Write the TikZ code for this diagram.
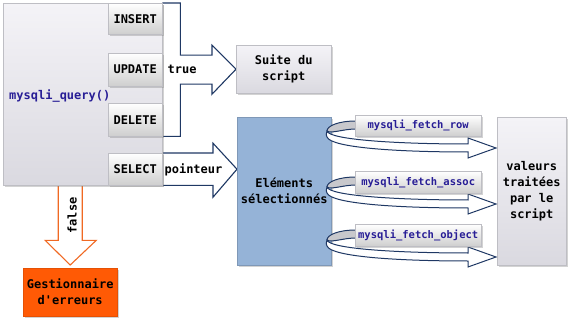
\documentclass[tikz,border=0pt]{standalone}
\usepackage{fontspec}
\newfontfamily\codefont{DejaVu Sans Mono}
\usetikzlibrary{shadows,calc}

\definecolor{arrowblue}{RGB}{31,56,100}
\definecolor{codeblue}{RGB}{40,30,150}
\definecolor{selblue}{RGB}{149,179,215}
\definecolor{errorange}{RGB}{255,90,5}
\definecolor{falseorange}{RGB}{240,105,35}
\definecolor{panelline}{RGB}{190,190,196}
\definecolor{ribbongray}{RGB}{200,200,204}
\definecolor{paneltop}{RGB}{244,243,247}
\definecolor{panelbottom}{RGB}{218,217,224}

\tikzset{
  shadowed/.style={drop shadow={shadow xshift=1.5pt,shadow yshift=-1.5pt,opacity=0.35}},
  panel/.style={shadowed, draw=panelline, top color=paneltop, bottom color=panelbottom,
    anchor=north west, inner sep=0pt, align=center,
    font=\codefont\bfseries\fontsize{12}{16}\selectfont},
  button/.style={panel, top color=white, bottom color=black!19},
  fetchlabel/.style={button, text=codeblue, font=\codefont\bfseries\fontsize{10.5}{13}\selectfont},
  bigarrow/.style={draw=arrowblue, fill=white, line width=1.1pt, line join=miter},
  falsearrow/.style={draw=falseorange, fill=white, line width=1.1pt, line join=miter},
  tag/.style={font=\codefont\bfseries\fontsize{12}{16}\selectfont, inner sep=0pt},
}

% curved fetch arrow wrapping around the right edge of the selected set,
% placed relative to the north west corner of its label
\newcommand\fetchribbon[1]{%
  \fill[ribbongray, draw=arrowblue, line width=1pt]
    ($(#1.north west)+(1,6)$) .. controls ($(#1.north west)+(-17,6)$) and ($(#1.north west)+(-28,11)$)
    .. ($(#1.north west)+(-28,16)$) .. controls ($(#1.north west)+(-24,19)$) and ($(#1.north west)+(-12,14)$)
    .. ($(#1.north west)+(1,14)$) -- cycle;
  \draw[bigarrow, line width=1pt]
    ($(#1.north west)+(-28,16)$) .. controls ($(#1.north west)+(-26,25)$) and ($(#1.north west)+(45,29)$)
    .. ($(#1.north west)+(113,29)$) -- ($(#1.north west)+(113,23)$) -- ($(#1.north west)+(141,33)$)
    -- ($(#1.north west)+(113,43)$) -- ($(#1.north west)+(113,37)$)
    .. controls ($(#1.north west)+(45,37)$) and ($(#1.north west)+(-24,33)$) .. ($(#1.north west)+(-28,22)$)
    .. controls ($(#1.north west)+(-29,20)$) .. cycle;
}

\begin{document}
\begin{tikzpicture}[x=1pt,y=-1pt]
\useasboundingbox (0,0) rectangle (580,320);

% boxes placed first as empty frames so that arrows can refer to them
\path
  (3,3) node[minimum width=159, minimum height=182, anchor=north west, inner sep=0pt] (query) {}
  (108,3) node[minimum width=54, minimum height=31, anchor=north west, inner sep=0pt] (insert) {}
  (108,53) node[minimum width=54, minimum height=33, anchor=north west, inner sep=0pt] (update) {}
  (108,103) node[minimum width=54, minimum height=33, anchor=north west, inner sep=0pt] (delete) {}
  (108,153) node[minimum width=54, minimum height=32, anchor=north west, inner sep=0pt] (select) {}
  (236,45) node[minimum width=95, minimum height=48, anchor=north west, inner sep=0pt] (suite) {}
  (237,117) node[minimum width=94, minimum height=148, anchor=north west, inner sep=0pt] (elem) {}
  (497,117) node[minimum width=69, minimum height=148, anchor=north west, inner sep=0pt] (valeurs) {}
  (23,268) node[minimum width=94, minimum height=48, anchor=north west, inner sep=0pt] (err) {};

% false: down to the error handler
\coordinate (ftip) at ($(err.north)+(0,-3)$);
\coordinate (ftop) at (ftip |- query.south);
\draw[falsearrow] ($(ftop)+(-12,-2)$) -- ($(ftop)+(-12,55)$) -- ($(ftop)+(-25,55)$) -- (ftip)
  -- ($(ftop)+(26,55)$) -- ($(ftop)+(12,55)$) -- ($(ftop)+(12,-2)$);
\node[tag, rotate=90] at ($(ftop)+(2,30)$) {false};

% true: INSERT, UPDATE, DELETE lead on to the rest of the script
\draw[bigarrow] (insert.north east) -- ++(18,0) |- ($(suite.west)+(-24,-14)$) -- ++(0,-10)
  -- (suite.west) -- ++(-24,25) -- ++(0,-10) -| ($(delete.south east)+(18,0)$) -- (delete.south east);
\node[tag, anchor=west] at ($(update.east)+(5,0)$) {true};

% pointer: SELECT leads to the selected rows
\coordinate (ptip) at (select.east -| elem.west);
\coordinate (pbase) at ($(ptip)+(-24,0)$);
\draw[bigarrow] (select.north east) -- (select.north east -| pbase) -- ($(pbase)+(0,-26)$)
  -- (ptip) -- ($(pbase)+(0,28)$) -- (select.south east -| pbase) -- (select.south east);
\node[tag, anchor=west] at ($(select.east)+(2,1)$) {pointeur};

% mysqli_query() block and its statements
\node[panel, minimum width=159, minimum height=182] at (3,3) {};
\node[tag, anchor=west, text=codeblue] at (9,96) {mysqli\_query()};
\node[button, minimum width=54, minimum height=31] at (108,3) {INSERT};
\node[button, minimum width=54, minimum height=33] at (108,53) {UPDATE};
\node[button, minimum width=54, minimum height=33] at (108,103) {DELETE};
\node[button, minimum width=54, minimum height=32] at (108,153) {SELECT};

% targets
\node[panel, minimum width=95, minimum height=48] at (236,45) {Suite du\\script};
\node[panel, draw=selblue!85!black, top color=selblue, bottom color=selblue,
  minimum width=94, minimum height=148] at (237,117) {Eléments\\sélectionnés};
\node[panel, minimum width=69, minimum height=148] at (497,117) {valeurs\\traitées\\par le\\script};
\node[panel, draw=errorange!90!black, top color=errorange, bottom color=errorange,
  minimum width=94, minimum height=48] at (23,268) {Gestionnaire\\d'erreurs};

% fetch functions
\path
  (355,115) coordinate (frow)
  (355,171) coordinate (fassoc)
  (355,224) coordinate (fobject);
\node[minimum width=126, minimum height=21, anchor=north west, inner sep=0pt] (lrow) at (frow) {};
\node[minimum width=126, minimum height=22, anchor=north west, inner sep=0pt] (lassoc) at (fassoc) {};
\node[minimum width=126, minimum height=22, anchor=north west, inner sep=0pt] (lobject) at (fobject) {};
\fetchribbon{lrow}
\fetchribbon{lassoc}
\fetchribbon{lobject}
\node[fetchlabel, minimum width=126, minimum height=21] at (frow) {mysqli\_fetch\_row};
\node[fetchlabel, minimum width=126, minimum height=22] at (fassoc) {mysqli\_fetch\_assoc};
\node[fetchlabel, minimum width=126, minimum height=22] at (fobject) {mysqli\_fetch\_object};
\end{tikzpicture}
\end{document}
